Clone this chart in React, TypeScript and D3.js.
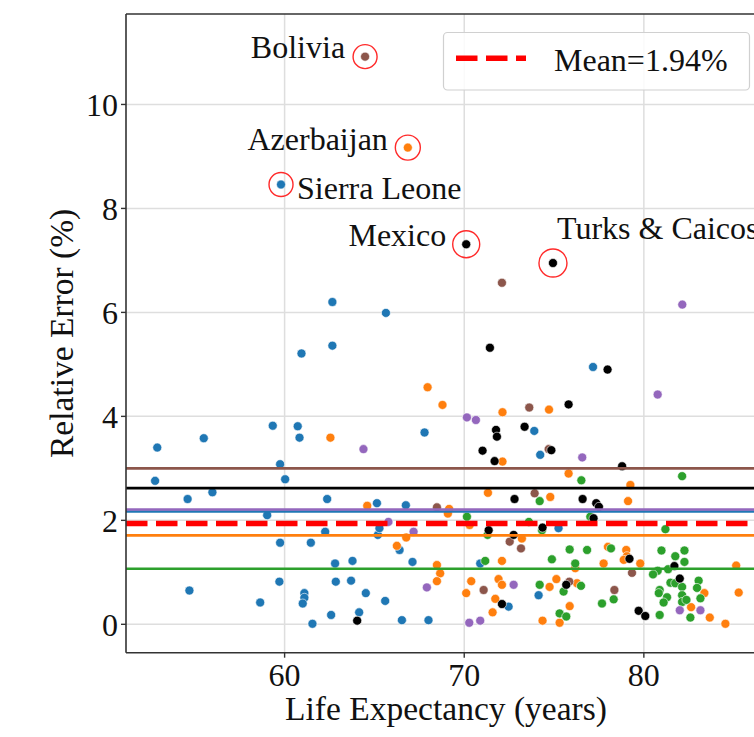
import React from "react";
import * as d3 from "d3";

type P = [number, number];

const blue: P[] = [
  [62.66, 6.2], [62.66, 5.36], [60.94, 5.21], [65.64, 5.99], [59.34, 3.82], [60.73, 3.81],
  [60.83, 3.59], [55.5, 3.58], [52.91, 3.4], [52.79, 2.76], [59.75, 3.08], [60.03, 2.79],
  [54.6, 2.41], [55.98, 2.54], [62.37, 2.41], [59.03, 2.1], [65.14, 2.33], [62.26, 1.78],
  [59.75, 1.57], [61.46, 1.57], [65.19, 1.72], [65.28, 1.85], [62.81, 1.17], [63.78, 1.22],
  [59.71, 0.82], [62.85, 0.82], [63.7, 0.84], [54.7, 0.65], [58.64, 0.42], [61.1, 0.6],
  [61.1, 0.51], [61.01, 0.4], [64.52, 0.6], [62.59, 0.18], [61.55, 0.01], [64.15, 0.23],
  [67.79, 3.69], [73.9, 3.72], [74.23, 3.26], [77.17, 4.95], [66.75, 2.29], [75.25, 1.85],
  [66.4, 1.43], [67.12, 1.2], [70.89, 1.17], [72.47, 0.34], [74.14, 0.56], [65.6, 0.45],
  [66.53, 0.08], [68.01, 0.08], [59.8, 8.46],
];

const orange: P[] = [
  [66.86, 9.17], [62.55, 3.59], [64.6, 2.28], [67.96, 4.56], [68.79, 4.22], [72.13, 4.08],
  [74.72, 4.13], [72.13, 3.13], [75.81, 2.9], [79.25, 2.68], [79.12, 2.37], [71.32, 2.53],
  [74.79, 2.45], [69.16, 2.22], [69.09, 2.13], [70.3, 1.91], [73.21, 1.65], [66.77, 1.67],
  [66.25, 1.51], [78.0, 1.49], [79.02, 1.43], [79.06, 1.31], [79.8, 1.17], [78.88, 1.24],
  [72.1, 1.22], [76.18, 1.08], [77.76, 1.17], [68.48, 1.14], [68.66, 0.98], [68.48, 0.83],
  [70.39, 0.83], [70.11, 0.6], [71.91, 0.87], [72.1, 0.76], [74.75, 0.72], [75.13, 0.87],
  [76.28, 0.79], [71.73, 0.49], [71.58, 0.23], [75.87, 0.35], [75.31, 0.03], [74.36, 0.07],
  [82.63, 0.33], [83.67, 0.13], [84.54, 0.01], [85.14, 1.13], [85.28, 0.61], [83.37, 0.6],
];

const green: P[] = [
  [82.13, 2.85], [76.52, 2.77], [74.2, 2.37], [70.15, 2.07], [73.6, 1.97], [71.3, 1.72],
  [74.33, 1.81], [77.02, 2.07], [81.2, 1.83], [75.87, 1.44], [76.84, 1.43], [78.17, 1.46],
  [74.88, 1.25], [71.17, 1.22], [76.18, 1.17], [74.2, 0.76], [75.53, 0.63], [76.5, 0.74],
  [78.32, 0.48], [77.67, 0.4], [75.31, 0.21], [75.68, 0.15], [80.88, 0.18], [82.59, 0.13],
  [80.98, 1.42], [81.75, 1.31], [82.26, 1.42], [82.26, 1.2], [81.35, 1.06], [80.77, 1.03],
  [80.51, 0.96], [81.48, 0.8], [81.75, 0.79], [83.05, 0.84], [82.96, 0.7], [82.13, 0.72],
  [80.88, 0.66], [80.83, 0.6], [81.29, 0.52], [81.1, 0.42], [82.13, 0.56], [82.13, 0.43],
  [83.15, 0.5], [82.37, 0.47],
];

const purple: P[] = [
  [64.39, 3.37], [70.15, 3.98], [70.65, 3.93], [82.14, 6.15], [80.77, 4.42], [76.57, 3.21],
  [65.78, 1.97], [67.18, 1.78], [72.75, 0.76], [67.92, 0.71], [70.28, 0.03], [70.89, 0.07],
  [82.0, 0.27], [83.15, 0.27],
];

const brown: P[] = [
  [64.48, 10.92], [72.1, 6.57], [73.62, 4.17], [74.7, 3.37], [73.92, 2.52], [68.48, 2.25],
  [72.53, 1.59], [73.16, 1.46], [79.34, 0.99], [71.08, 0.66], [75.85, 0.82], [78.36, 0.66],
];

const black: P[] = [
  [70.11, 7.31], [74.94, 6.95], [71.43, 5.32], [77.98, 4.9], [75.81, 4.23], [71.77, 3.74],
  [71.82, 3.61], [73.36, 3.8], [71.02, 3.34], [71.69, 3.14], [74.85, 3.35], [78.79, 3.04],
  [72.8, 2.41], [76.59, 2.41], [77.35, 2.33], [77.5, 2.26], [71.36, 1.81], [74.36, 1.86],
  [77.2, 2.04], [72.75, 1.72], [79.2, 1.26], [75.68, 0.76], [72.1, 0.39], [64.04, 0.07],
  [79.71, 0.26], [80.08, 0.16], [81.7, 1.12], [82.0, 0.88],
];

// group means (horizontal lines)
const groupNames = ["blue", "orange", "green", "purple", "brown", "black"];
const groupMeans = [2.17, 1.71, 1.07, 2.21, 3.0, 2.62];
const overallMean = 1.94;

const highlightNames = ["Bolivia", "Azerbaijan", "Sierra Leone", "Mexico", "Turks & Caicos"];
const highlightLife = [64.48, 66.86, 59.8, 70.11, 74.94];
const highlightErr = [10.92, 9.17, 8.46, 7.31, 6.95];

const xTicks = [60, 70, 80];
const yTicks = [0, 2, 4, 6, 8, 10];

const W = 754;
const H = 737;
const left = 126;
const right = 766;
const top = 14;
const bottom = 652.7;

const colors: Record<string, string> = {
  blue: "#1f77b4",
  orange: "#ff7f0e",
  green: "#2ca02c",
  purple: "#9467bd",
  brown: "#8c564b",
  black: "#000000",
};

const labelLayout: Record<string, { dx: number; dy: number; anchor: string; r: number }> = {
  Bolivia: { dx: -20, dy: 1.5, anchor: "end", r: 12 },
  Azerbaijan: { dx: -20, dy: 2, anchor: "end", r: 12.5 },
  "Sierra Leone": { dx: 16, dy: 14, anchor: "start", r: 12 },
  Mexico: { dx: -20, dy: 1.5, anchor: "end", r: 13.5 },
  "Turks & Caicos": { dx: 4, dy: -24, anchor: "start", r: 14 },
};

const FONT = "'Liberation Serif', 'Times New Roman', serif";

export default function App() {
  const x = d3.scaleLinear().domain([51.17, 86.8]).range([left, right]);
  const y = d3.scaleLinear().domain([-0.546, 11.74]).range([bottom, top]);

  const groups: [string, P[]][] = [
    ["blue", blue],
    ["orange", orange],
    ["green", green],
    ["purple", purple],
    ["brown", brown],
    ["black", black],
  ];

  const lineOrder = ["brown", "black", "blue", "purple", "orange", "green"];

  return (
    <svg
      width={W}
      height={H}
      style={{ position: "absolute", left: 0, top: 0, background: "#fff" }}
      fontFamily={FONT}
    >
      <rect x={0} y={0} width={W} height={H} fill="#fff" />
      {/* grid */}
      {xTicks.map((t) => (
        <line key={"gx" + t} x1={x(t)} x2={x(t)} y1={top} y2={bottom} stroke="#dedede" strokeWidth={1.5} />
      ))}
      {yTicks.map((t) => (
        <line key={"gy" + t} x1={left} x2={right} y1={y(t)} y2={y(t)} stroke="#dedede" strokeWidth={1.5} />
      ))}

      {/* points */}
      {groups.map(([name, pts]) =>
        pts.map((p, i) => (
          <circle
            key={name + i}
            cx={x(p[0])}
            cy={y(p[1])}
            r={4.5}
            fill={colors[name]}
            stroke="#fff"
            strokeWidth={0.6}
          />
        ))
      )}

      {/* group mean lines */}
      {lineOrder.map((name) => {
        const m = groupMeans[groupNames.indexOf(name)];
        return (
          <line key={"m" + name} x1={left} x2={right} y1={y(m)} y2={y(m)} stroke={colors[name]} strokeWidth={2.6} />
        );
      })}
      <line
        x1={left}
        x2={right}
        y1={y(overallMean)}
        y2={y(overallMean)}
        stroke="#ff0000"
        strokeWidth={5.5}
        strokeDasharray="21.5,8.5"
      />

      {/* highlights */}
      {highlightNames.map((n, i) => {
        const L = labelLayout[n];
        const cx = x(highlightLife[i]);
        const cy = y(highlightErr[i]);
        return (
          <g key={n}>
            <ellipse cx={cx} cy={cy} rx={L.r} ry={L.r} fill="none" stroke="#ff2a2a" strokeWidth={1.4} />
            <text x={cx + L.dx} y={cy + L.dy} textAnchor={L.anchor} fontSize={32} fill="#111">
              {n}
            </text>
          </g>
        );
      })}

      {/* spines */}
      <line x1={left} x2={left} y1={top} y2={bottom} stroke="#333" strokeWidth={1.6} />
      <line x1={left} x2={W + 20} y1={bottom} y2={bottom} stroke="#333" strokeWidth={1.6} />
      <line x1={left} x2={W + 20} y1={top} y2={top} stroke="#333" strokeWidth={1.6} />

      {/* ticks */}
      {xTicks.map((t) => (
        <g key={"xt" + t}>
          <line x1={x(t)} x2={x(t)} y1={bottom} y2={bottom + 5} stroke="#333" strokeWidth={1.4} />
          <text x={x(t)} y={686} textAnchor="middle" fontSize={32} fill="#111">
            {t}
          </text>
        </g>
      ))}
      {yTicks.map((t) => (
        <g key={"yt" + t}>
          <line x1={left - 5} x2={left} y1={y(t)} y2={y(t)} stroke="#333" strokeWidth={1.4} />
          <text x={118} y={y(t) + 12} textAnchor="end" fontSize={32} fill="#111">
            {t}
          </text>
        </g>
      ))}

      {/* axis labels */}
      <text x={(left + right) / 2} y={720} textAnchor="middle" fontSize={33.5} fill="#111">
        Life Expectancy (years)
      </text>
      <text
        transform={`translate(73, ${(top + bottom) / 2}) rotate(-90)`}
        textAnchor="middle"
        fontSize={33.5}
        fill="#111"
      >
        Relative Error (%)
      </text>

      {/* legend */}
      <rect x={443.5} y={32.5} width={306} height={57.5} rx={4} fill="#fff" fillOpacity={0.85} stroke="#d0d0d0" strokeWidth={1.2} />
      <line x1={456} x2={526} y1={58.3} y2={58.3} stroke="#ff0000" strokeWidth={5.5} strokeDasharray="21.5,8.5" />
      <text x={554} y={71} fontSize={32} fill="#111">
        Mean=1.94%
      </text>
    </svg>
  );
}
